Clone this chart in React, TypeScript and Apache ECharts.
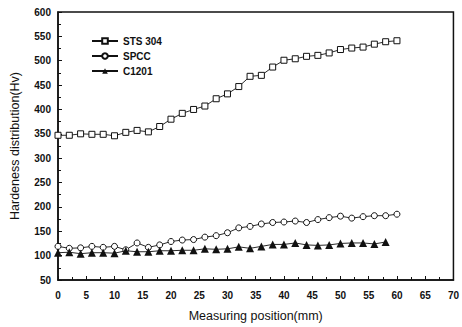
import React, { useEffect, useRef } from "react";
import * as echarts from "echarts";

const positions = [0, 2, 4, 6, 8, 10, 12, 14, 16, 18, 20, 22, 24, 26, 28, 30, 32, 34, 36, 38, 40, 42, 44, 46, 48, 50, 52, 54, 56, 58, 60];
const sts304 = [347, 347, 350, 349, 349, 346, 353, 357, 354, 365, 380, 392, 400, 407, 422, 432, 447, 468, 470, 487, 501, 504, 509, 511, 516, 523, 526, 528, 534, 539, 541];
const spcc = [119, 115, 116, 119, 117, 119, 112, 126, 117, 122, 129, 132, 133, 138, 141, 147, 157, 160, 165, 168, 169, 171, 168, 174, 178, 181, 177, 180, 182, 182, 185];
const c1201 = [106, 107, 104, 106, 106, 105, 110, 108, 108, 110, 110, 111, 111, 114, 113, 114, 118, 115, 119, 123, 123, 126, 122, 121, 122, 125, 126, 126, 124, 128];
const seriesNames = ["STS 304", "SPCC", "C1201"];

const pair = (vals: number[]) => vals.map((v, i) => [positions[i], v]);

export default function App() {
  const ref = useRef<HTMLDivElement>(null);
  useEffect(() => {
    if (!ref.current) return;
    const chart = echarts.init(ref.current, null, { renderer: "svg" });
    const font = "'Liberation Sans', Arial, sans-serif";
    const lineStyle = { color: "#111", width: 0.9 };
    chart.setOption({
      animation: false,
      backgroundColor: "#fff",
      grid: { left: 57, top: 12, right: 1, bottom: 45, show: true, borderColor: "#111", borderWidth: 1.5 },
      legend: {
        left: 86,
        top: 31,
        orient: "vertical",
        itemGap: 5,
        itemWidth: 26,
        itemHeight: 7,
        textStyle: { fontFamily: font, fontSize: 10, fontWeight: "bold", color: "#111" },
        data: seriesNames,
      },
      xAxis: {
        type: "value",
        min: 0,
        max: 70,
        interval: 5,
        name: "Measuring position(mm)",
        nameLocation: "middle",
        nameGap: 29,
        nameTextStyle: { fontFamily: font, fontSize: 12.5, color: "#111" },
        axisLine: { lineStyle: { color: "#111", width: 1.5 } },
        axisTick: { inside: true, length: 4, lineStyle: { color: "#111" } },
        minorTick: { show: true, splitNumber: 2, length: 3, lineStyle: { color: "#111" } },
        splitLine: { show: false },
        axisLabel: { fontFamily: font, fontSize: 10, fontWeight: "bold", color: "#111", margin: 10 },
      },
      yAxis: {
        type: "value",
        min: 50,
        max: 600,
        interval: 50,
        name: "Hardeness distribution(Hv)",
        nameLocation: "middle",
        nameGap: 37,
        nameTextStyle: { fontFamily: font, fontSize: 12.5, color: "#111" },
        axisLine: { show: true, lineStyle: { color: "#111", width: 1.5 } },
        axisTick: { show: true, inside: true, length: 4, lineStyle: { color: "#111" } },
        minorTick: { show: true, splitNumber: 2, length: 3, lineStyle: { color: "#111" } },
        splitLine: { show: false },
        axisLabel: { fontFamily: font, fontSize: 10, fontWeight: "bold", color: "#111", margin: 7 },
      },
      series: [
        {
          name: seriesNames[0],
          type: "line",
          data: pair(sts304),
          symbol: "rect",
          symbolSize: 6,
          lineStyle,
          itemStyle: { color: "#fff", borderColor: "#111", borderWidth: 1 },
        },
        {
          name: seriesNames[1],
          type: "line",
          data: pair(spcc),
          symbol: "circle",
          symbolSize: 6,
          lineStyle,
          itemStyle: { color: "#fff", borderColor: "#111", borderWidth: 1 },
        },
        {
          name: seriesNames[2],
          type: "line",
          data: pair(c1201),
          symbol: "triangle",
          symbolSize: 8,
          lineStyle,
          itemStyle: { color: "#111", borderColor: "#111", borderWidth: 0 },
        },
      ],
    });
    return () => chart.dispose();
  }, []);
  return <div ref={ref} style={{ position: "fixed", left: 0, top: 0, width: 462, height: 327 }} />;
}
